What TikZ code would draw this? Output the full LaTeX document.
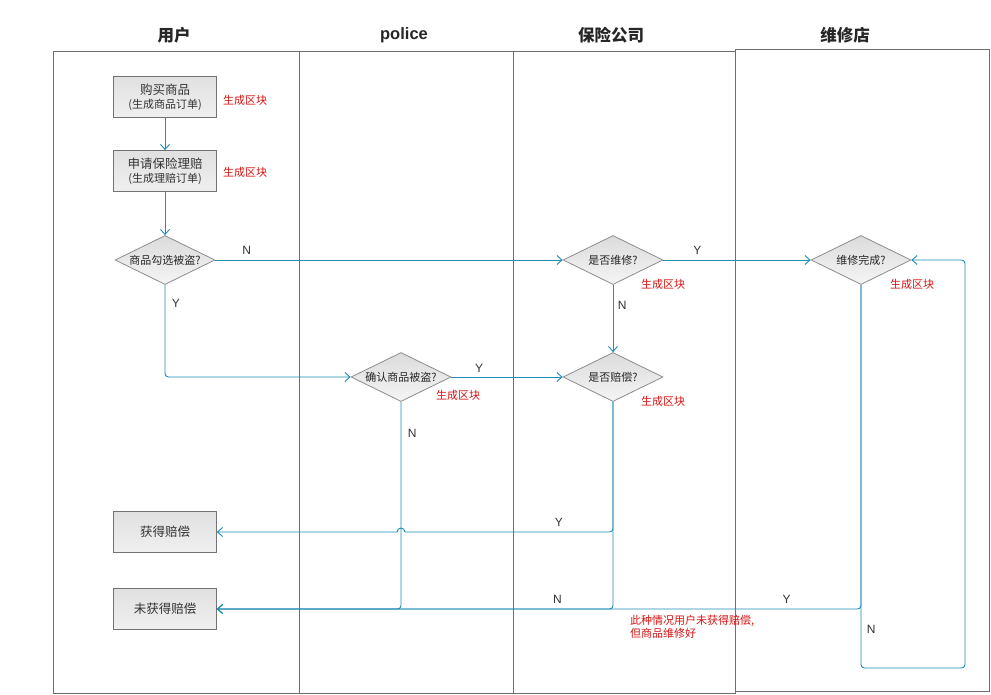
\documentclass[tikz,border=0pt]{standalone}
\usepackage{fontspec}
\setmainfont{Liberation Sans}
\newfontfamily\cjk{Noto Sans CJK SC}
\usetikzlibrary{shapes.geometric,arrows.meta}
\definecolor{flow}{RGB}{30,140,180}
\definecolor{lanegray}{RGB}{110,110,110}
\definecolor{redtxt}{RGB}{215,20,20}
\tikzset{
  lane/.style={draw=lanegray,line width=0.8pt},
  hdr/.style={font=\cjk\bfseries\fontsize{16.5}{18}\selectfont,text=black!85},
  procbox/.style={draw=black!55,line width=0.8pt,top color=black!12,bottom color=black!6,minimum width=103pt,minimum height=41pt,inner sep=0pt,align=center,font=\cjk\fontsize{12.5}{15}\selectfont,text=black!80},
  decision/.style={diamond,aspect=2.05,draw=black!45,line width=0.8pt,top color=black!14,bottom color=black!4,minimum width=100pt,minimum height=49pt,inner sep=0pt,font=\cjk\fontsize{11}{13}\selectfont,text=black!85},
  note/.style={font=\cjk\fontsize{11}{13}\selectfont,text=redtxt,align=left},
  yn/.style={font=\fontsize{12}{14}\selectfont,text=black!80},
  conn/.style={draw=flow,line width=0.9pt,rounded corners=3.5pt},
  arr/.style={conn,-{Straight Barb[length=5pt,width=9pt]}},
}
\begin{document}
\begin{tikzpicture}[x=1pt,y=-1pt]
\useasboundingbox (0,0) rectangle (991,695);
\fill[white] (0,0) rectangle (991,695);
% lanes
\draw[lane] (53,51) rectangle (299,693);
\draw[lane] (299,51) rectangle (513,693);
\draw[lane] (513,51) rectangle (735,693);
\draw[lane] (735,49) rectangle (989,691);
\node[hdr] (h1) at (174,35) {用户};
\node[hdr,font=\bfseries\fontsize{16.5}{18}\selectfont] (h2) at (404,35) {police};
\node[hdr] (h3) at (611,35) {保险公司};
\node[hdr] (h4) at (845,35) {维修店};
% nodes
\node[procbox] (buy) at (165,97) {购买商品\\[-1pt]{\fontsize{11}{13}\selectfont (生成商品订单)}};
\node[procbox] (apply) at (165,171) {申请保险理赔\\[-1pt]{\fontsize{11}{13}\selectfont (生成理赔订单)}};
\node[decision] (stolen) at (165,260) {商品勾选被盗?};
\node[decision] (confirm) at (401,377) {确认商品被盗?};
\node[decision] (repair) at (613,260) {是否维修?};
\node[decision] (pay) at (613,377) {是否赔偿?};
\node[decision] (done) at (861,260) {维修完成?};
\node[procbox] (got) at (165,532) {获得赔偿};
\node[procbox] (notgot) at (165,609) {未获得赔偿};
% notes
\node[note] (n1) at (245,100) {生成区块};
\node[note] (n2) at (245,172) {生成区块};
\node[note] (n3) at (663,284) {生成区块};
\node[note] (n4) at (458,395) {生成区块};
\node[note] (n5) at (663,401) {生成区块};
\node[note] (n6) at (912,284) {生成区块};
\node[note,anchor=north west,inner sep=0pt] (n7) at (630,615) {此种情况用户未获得赔偿,\\但商品维修好};
% helper coordinates
\coordinate (c1) at (165,377);
\coordinate (c2) at (613,532);
\coordinate (c3) at (613,609);
\coordinate (c4) at (401,609);
\coordinate (c5) at (861,609);
\coordinate (c6) at (861,668);
\coordinate (c7) at (965,668);
\coordinate (c8) at (965,260);
\coordinate (hopR) at (405,532);
% connectors
\draw[arr] (buy) -- (apply);
\draw[arr] (apply) -- (stolen);
\draw[arr] (stolen.east) -- node[yn,pos=0.09,above=2pt]{N} (repair.west);
\draw[arr] (stolen.south) -- node[yn,pos=0.2,right=3pt]{Y} (c1) -- (confirm.west);
\draw[arr] (confirm.east) -- node[yn,pos=0.25,above=1pt]{Y} (pay.west);
\draw[arr] (repair.east) -- node[yn,pos=0.23,above=2pt]{Y} (done.west);
\draw[arr] (repair.south) -- node[yn,pos=0.3,right=1pt]{N} (pay.north);
\draw[conn] (pay.south) -- (c2) -- node[yn,pos=0.26,above=2pt]{Y} (hopR);
\draw[arr,rounded corners=0pt] (hopR) arc[start angle=0,end angle=-180,radius=4] -- (got.east);
\draw[arr] (pay.south) -- (c3) -- node[yn,pos=0.14,above=2pt]{N} (notgot.east);
\draw[arr] (confirm.south) -- node[yn,pos=0.15,right=3pt]{N} (c4) -- (notgot.east);
\draw[arr] (done.south) -- (c5) -- node[yn,pos=0.3,above=2pt]{Y} (c3) -- (notgot.east);
\draw[arr] (done.south) -- node[yn,pos=0.9,right=2pt]{N} (c6) -- (c7) -- (c8) -- (done.east);
\end{tikzpicture}
\end{document}
